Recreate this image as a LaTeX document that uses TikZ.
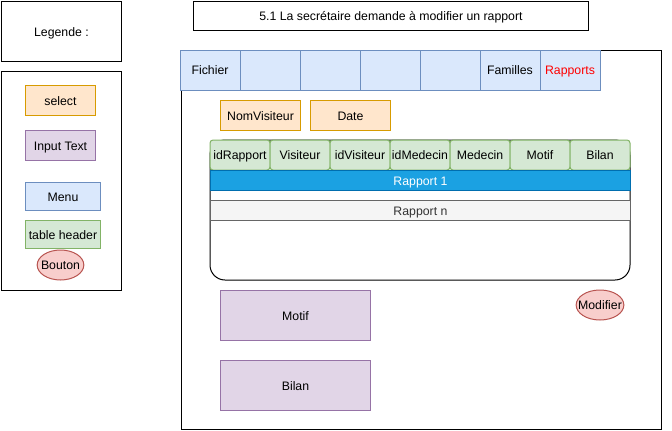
\documentclass[tikz,border=0pt]{standalone}
\usepackage{fontspec}
\setmainfont{Liberation Sans}
\usepackage{tikz}
\usetikzlibrary{shapes.geometric}

\definecolor{selfill}{HTML}{FFE6CC}
\definecolor{seldraw}{HTML}{D79B00}
\definecolor{inpfill}{HTML}{E1D5E7}
\definecolor{inpdraw}{HTML}{9673A6}
\definecolor{menufill}{HTML}{DAE8FC}
\definecolor{menudraw}{HTML}{6C8EBF}
\definecolor{headfill}{HTML}{D5E8D4}
\definecolor{headdraw}{HTML}{82B366}
\definecolor{btnfill}{HTML}{F8CECC}
\definecolor{btndraw}{HTML}{B85450}
\definecolor{rowfill}{HTML}{1BA1E2}
\definecolor{rowdraw}{HTML}{006EAF}
\definecolor{greyfill}{HTML}{F5F5F5}
\definecolor{greydraw}{HTML}{666666}
\definecolor{greytext}{HTML}{333333}

\tikzset{
  box/.style={draw=black, rectangle, inner sep=0pt, anchor=north west},
  selectbox/.style={box, draw=seldraw, fill=selfill},
  inputbox/.style={box, draw=inpdraw, fill=inpfill},
  menubox/.style={box, draw=menudraw, fill=menufill},
  headbox/.style={box, draw=headdraw, fill=headfill},
  headcell/.style={draw=headdraw, fill=headfill, rectangle, rounded corners=3pt, inner sep=0pt,
    minimum width=60, minimum height=30},
  tabcell/.style={draw=menudraw, fill=menufill, rectangle, inner sep=0pt,
    minimum width=60, minimum height=40},
  button/.style={draw=btndraw, fill=btnfill, ellipse, inner ysep=0pt},
}

\begin{document}
\begin{tikzpicture}[x=1pt, y=-1pt, line width=1pt,
  font=\fontsize{12.3}{14}\selectfont,
  every node/.append style={text height=10pt, text depth=0.8pt}]
\useasboundingbox (0,0) rectangle (672,431);
%% legend
\node[box, minimum width=120, minimum height=60] (legtitle) at (1,1) {Legende :};
\node[box, minimum width=120, minimum height=219] (legend) at (1,71) {};
\node[selectbox, minimum width=70, minimum height=30] (legselect) at (25,85) {select};
\node[inputbox, minimum width=70, minimum height=30] (leginput) at (25,130) {Input Text};
\node[menubox, minimum width=75, minimum height=28] (legmenu) at (25,182) {Menu};
\node[headbox, minimum width=75, minimum height=28] (leghead) at (25,220) {table header};
\node[button, inner xsep=-3pt, minimum height=30] (legbtn) at (60.5,265) {Bouton};
%% title
\node[box, minimum width=395, minimum height=29] (title) at (193,1)
  {5.1 La secrétaire demande à modifier un rapport};
%% window
\draw (181,50) rectangle (661,429.5);
\foreach \lbl [count=\i] in {Fichier,{},{},{},{},Familles,{\color{red}Rapports}}
  \node[tabcell] (tab\i) at (150+\i*60,70) {\lbl};
\node[selectbox, minimum width=80, minimum height=30] (nomvis) at (220,100) {NomVisiteur};
\node[selectbox, minimum width=80, minimum height=30] (date) at (310,100) {Date};
%% table
\draw[rounded corners=15pt] (210,140) rectangle (630,280);
\foreach \lbl [count=\i] in {idRapport,Visiteur,idVisiteur,idMedecin,Medecin,Motif,Bilan}
  \node[headcell] (head\i) at (180+\i*60,155) {\lbl};
\node[box, draw=rowdraw, fill=rowfill, text=white, minimum width=420, minimum height=20]
  (row1) at (210,170) {Rapport 1};
\node[box, draw=greydraw, fill=greyfill, text=greytext, minimum width=420, minimum height=20]
  (rown) at (210,200) {Rapport n};
%% inputs
\node[inputbox, minimum width=150, minimum height=50] (motif) at (220,290) {Motif};
\node[inputbox, minimum width=150, minimum height=50] (bilan) at (220,360) {Bilan};
\node[button, inner xsep=-5pt, minimum height=30] (modif) at (600,305) {Modifier};
\end{tikzpicture}
\end{document}
